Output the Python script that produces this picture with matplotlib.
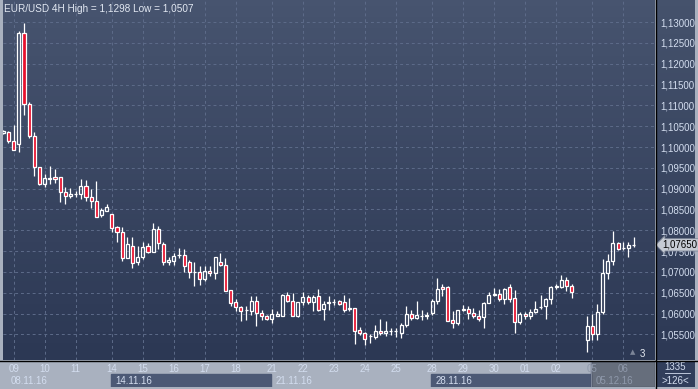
import numpy as np
import matplotlib
matplotlib.use("Agg")
import matplotlib.pyplot as plt
from matplotlib.colors import LinearSegmentedColormap
from matplotlib.lines import Line2D
from matplotlib.ticker import FuncFormatter

plt.rcParams['font.family'] = ['Liberation Sans', 'DejaVu Sans']

nan = np.nan

# EUR/USD 4H candles (slots 111, 112 have no bar)
opens = [1.1034, 1.1036, 1.1015, 1.1007, 1.1274, 1.1104, 1.1027, 1.0952, 1.0910, 1.0924,
         1.0927, 1.0927, 1.0891, 1.0882, 1.0887, 1.0887, 1.0906, 1.0879, 1.0871, 1.0837,
         1.0847, 1.0839, 1.0809, 1.0797, 1.0734, 1.0763, 1.0724, 1.0737, 1.0763, 1.0749,
         1.0804, 1.0768, 1.0723, 1.0727, 1.0740, 1.0740, 1.0723, 1.0699, 1.0699, 1.0682,
         1.0703, 1.0697, 1.0724, 1.0716, 1.0657, 1.0627, 1.0615, 1.0608, 1.0607, 1.0630,
         1.0601, 1.0594, 1.0587, 1.0594, 1.0594, 1.0644, 1.0631, 1.0593, 1.0627, 1.0640,
         1.0627, 1.0642, 1.0611, 1.0626, 1.0627, 1.0629, 1.0628, 1.0612, 1.0613, 1.0561,
         1.0554, 1.0545, 1.0543, 1.0559, 1.0554, 1.0558, 1.0559, 1.0554, 1.0573, 1.0599,
         1.0589, 1.0593, 1.0594, 1.0601, 1.0629, 1.0664, 1.0664, 1.0585, 1.0577, 1.0609,
         1.0611, 1.0601, 1.0594, 1.0591, 1.0625, 1.0644, 1.0648, 1.0636, 1.0664, 1.0638,
         1.0580, 1.0600, 1.0594, 1.0604, 1.0615, 1.0618, 1.0636, 1.0664, 1.0664, 1.0680,
         1.0665, nan, nan, 1.0536, 1.0571, 1.0551, 1.0604, 1.0698, 1.0725, 1.0769,
         1.0757, 1.0757, 1.0765]
highs = [1.1040, 1.1038, 1.1052, 1.1279, 1.1298, 1.1107, 1.1036, 1.0952, 1.0934, 1.0954,
         1.0948, 1.0928, 1.0903, 1.0901, 1.0895, 1.0924, 1.0920, 1.0898, 1.0918, 1.0854,
         1.0863, 1.0840, 1.0811, 1.0807, 1.0785, 1.0785, 1.0763, 1.0771, 1.0769, 1.0817,
         1.0811, 1.0771, 1.0736, 1.0745, 1.0757, 1.0755, 1.0729, 1.0723, 1.0715, 1.0713,
         1.0715, 1.0737, 1.0745, 1.0733, 1.0657, 1.0635, 1.0617, 1.0617, 1.0643, 1.0641,
         1.0609, 1.0597, 1.0611, 1.0605, 1.0646, 1.0651, 1.0649, 1.0628, 1.0651, 1.0645,
         1.0645, 1.0660, 1.0629, 1.0641, 1.0635, 1.0633, 1.0645, 1.0637, 1.0614, 1.0567,
         1.0556, 1.0550, 1.0573, 1.0586, 1.0582, 1.0565, 1.0565, 1.0578, 1.0617, 1.0609,
         1.0631, 1.0609, 1.0603, 1.0635, 1.0685, 1.0671, 1.0667, 1.0607, 1.0609, 1.0621,
         1.0617, 1.0613, 1.0609, 1.0627, 1.0651, 1.0661, 1.0658, 1.0662, 1.0670, 1.0656,
         1.0604, 1.0603, 1.0610, 1.0631, 1.0644, 1.0637, 1.0666, 1.0672, 1.0692, 1.0688,
         1.0670, nan, nan, 1.0595, 1.0598, 1.0622, 1.0730, 1.0743, 1.0799, 1.0771,
         1.0771, 1.0771, 1.0785]
lows = [1.1032, 1.1010, 1.0992, 1.0988, 1.1078, 1.1022, 1.0930, 1.0908, 1.0903, 1.0912,
        1.0914, 1.0869, 1.0863, 1.0877, 1.0879, 1.0875, 1.0871, 1.0854, 1.0831, 1.0831,
        1.0847, 1.0795, 1.0772, 1.0726, 1.0733, 1.0710, 1.0716, 1.0732, 1.0746, 1.0749,
        1.0756, 1.0716, 1.0717, 1.0717, 1.0733, 1.0699, 1.0686, 1.0665, 1.0669, 1.0677,
        1.0690, 1.0682, 1.0715, 1.0653, 1.0618, 1.0607, 1.0581, 1.0585, 1.0597, 1.0569,
        1.0585, 1.0585, 1.0578, 1.0593, 1.0593, 1.0627, 1.0593, 1.0592, 1.0621, 1.0623,
        1.0605, 1.0605, 1.0585, 1.0609, 1.0621, 1.0621, 1.0603, 1.0605, 1.0528, 1.0549,
        1.0524, 1.0529, 1.0540, 1.0549, 1.0545, 1.0549, 1.0543, 1.0541, 1.0567, 1.0585,
        1.0586, 1.0585, 1.0586, 1.0596, 1.0623, 1.0641, 1.0581, 1.0565, 1.0573, 1.0605,
        1.0588, 1.0589, 1.0581, 1.0565, 1.0625, 1.0643, 1.0630, 1.0622, 1.0628, 1.0553,
        1.0576, 1.0586, 1.0588, 1.0602, 1.0610, 1.0587, 1.0622, 1.0660, 1.0662, 1.0654,
        1.0638, nan, nan, 1.0507, 1.0537, 1.0537, 1.0598, 1.0684, 1.0717, 1.0752,
        1.0752, 1.0737, 1.0760]
closes = [1.1038, 1.1015, 1.0993, 1.1274, 1.1104, 1.1027, 1.0952, 1.0910, 1.0925, 1.0926,
          1.0924, 1.0891, 1.0882, 1.0887, 1.0888, 1.0906, 1.0879, 1.0871, 1.0833, 1.0848,
          1.0855, 1.0805, 1.0797, 1.0734, 1.0766, 1.0722, 1.0737, 1.0760, 1.0749, 1.0804,
          1.0769, 1.0724, 1.0729, 1.0739, 1.0741, 1.0715, 1.0699, 1.0700, 1.0682, 1.0703,
          1.0697, 1.0736, 1.0716, 1.0655, 1.0625, 1.0615, 1.0607, 1.0609, 1.0630, 1.0601,
          1.0593, 1.0588, 1.0599, 1.0599, 1.0645, 1.0631, 1.0594, 1.0627, 1.0640, 1.0627,
          1.0640, 1.0609, 1.0622, 1.0627, 1.0628, 1.0623, 1.0609, 1.0613, 1.0557, 1.0553,
          1.0538, 1.0547, 1.0559, 1.0553, 1.0559, 1.0559, 1.0558, 1.0573, 1.0599, 1.0589,
          1.0596, 1.0594, 1.0596, 1.0631, 1.0659, 1.0659, 1.0582, 1.0577, 1.0609, 1.0611,
          1.0601, 1.0594, 1.0588, 1.0625, 1.0645, 1.0646, 1.0636, 1.0658, 1.0636, 1.0580,
          1.0598, 1.0595, 1.0604, 1.0612, 1.0616, 1.0636, 1.0664, 1.0665, 1.0680, 1.0665,
          1.0652, nan, nan, 1.0571, 1.0551, 1.0604, 1.0698, 1.0725, 1.0769, 1.0756,
          1.0758, 1.0765, 1.0765]

# first candle slot of each trading day
day_start = [2, 8, 14, 21, 27, 33, 39, 45, 52, 58, 64, 70, 76, 83, 89, 95, 101, 107, 114, 120]
day_labels = ['09', '10', '11', '14', '15', '16', '17', '18', '21', '22',
              '23', '24', '25', '28', '29', '30', '01', '02', '05', '06']
week_start = [-8, 21, 52, 83, 114]
week_labels = ['08.11.16', '14.11.16', '21.11.16', '28.11.16', '05.12.16']

title = 'EUR/USD 4H High = 1,1298 Low = 1,0507'
last_price = 1.0765

W, H = 698, 389
fig = plt.figure(figsize=(W / 100, H / 100), dpi=100, facecolor='#a9b1bf')


def px(x0, y0, x1, y1):
    # pixel box (top-left origin) -> figure rect
    return [x0 / W, 1 - y1 / H, (x1 - x0) / W, (y1 - y0) / H]


def gradient(a, top, bottom):
    cm = LinearSegmentedColormap.from_list('g', [top, bottom])
    a.imshow(np.linspace(0, 1, 64).reshape(-1, 1), cmap=cm, extent=(0, 1, 0, 1),
             transform=a.transAxes, aspect='auto', zorder=0)


ax = fig.add_axes(px(3, 0, 655, 360))
axr = fig.add_axes(px(656, 0, 695, 360))
axb = fig.add_axes(px(3, 361, 655, 387), sharex=ax)
axc = fig.add_axes(px(656, 361, 695, 387))
ax.set_zorder(3)
for a in (axr, axb, axc):
    a.set_zorder(1)

gradient(ax, '#47546f', '#2c3854')
gradient(axr, '#45526c', '#2d3955')
for a in (axr, axc):
    a.set_xticks([])
    a.set_yticks([])
    for s in a.spines.values():
        s.set_visible(False)
axb.set_facecolor('#313e5b')
axc.set_facecolor('#313e5b')
axb.axis('off')
axb.patch.set_visible(True)

# candles
o = np.array(opens)
hi = np.array(highs)
lo = np.array(lows)
c = np.array(closes)
idx = np.arange(len(o))
ok = ~np.isnan(o)
idx, o, hi, lo, c = idx[ok], o[ok], hi[ok], lo[ok], c[ok]
top = np.maximum(o, c)
bot = np.minimum(o, c)
up = c >= o

ax.vlines(idx, top, hi, color='white', lw=0.9, zorder=3)
ax.vlines(idx, lo, bot, color='white', lw=0.9, zorder=3)
ax.bar(idx[up], (top - bot)[up], bottom=bot[up], width=0.6, facecolor='none',
       edgecolor='white', lw=0.9, zorder=4)
ax.bar(idx[~up], (top - bot)[~up], bottom=bot[~up], width=0.6, facecolor='#e8112d',
       edgecolor='white', lw=0.9, zorder=4)

ax.set_xlim(-0.06, 126.15)
ax.set_ylim(1.04884, 1.13531)

ax.set_yticks(np.arange(1.055, 1.13001, 0.005))
ax.yaxis.tick_right()
ax.yaxis.set_major_formatter(FuncFormatter(lambda v, p: f"{v:.5f}".replace('.', ',')))
ax.tick_params(axis='y', length=0, pad=3.5, labelsize=7, labelcolor='#d3ddef')
ax.set_xticks(day_start, day_labels)
ax.tick_params(axis='x', length=0, pad=3, labelsize=7, labelcolor='#d3ddef')
for lab in ax.get_xticklabels()[-2:]:
    lab.set_color('#8f99ab')
for s in ax.spines.values():
    s.set_visible(False)
ax.set_axisbelow(True)
ax.grid(True, color='#5d6b89', ls=(0, (3, 3)), lw=0.7)

# week row
axb.set_ylim(0, 1)
for i, (ws, wl) in enumerate(zip(week_start, week_labels)):
    nxt = week_start[i + 1] if i + 1 < len(week_start) else 126.2
    if i in (1, 3):
        axb.axvspan(ws - 0.2, nxt - 0.2, 0.0, 0.5, color='#4c5975', zorder=1)
    col = '#8f99ab' if i == len(week_start) - 1 else '#d3ddef'
    axb.text(max(ws, 0.8) + 0.7, 0.25, wl, transform=axb.get_xaxis_transform(),
             ha='left', va='center', fontsize=7, color=col, zorder=3)
axb.axvspan(week_start[-1] - 0.2, 126.2, 0, 1, color='#252c3b', alpha=0.5, zorder=2)
axb.axvline(week_start[-1] - 0.3, color='#7c8598', lw=0.8, zorder=2)

# last price tag, drawn over the 1,07500 label as in the source chart
ax.text(1.011, last_price, f"{last_price:.5f}".replace('.', ','),
        transform=ax.get_yaxis_transform(), ha='left', va='center', fontsize=7,
        color='black', clip_on=False, zorder=6,
        bbox=dict(boxstyle='larrow,pad=0.12', fc='#c6cbd4', ec='#7e8799', lw=0.6))

ax.text(0.966, 0.022, '\u25b2', transform=ax.transAxes, fontsize=5, color='#7c8598',
        ha='center', va='center', family=['DejaVu Sans'])
ax.text(0.981, 0.016, '3', transform=ax.transAxes, fontsize=7, color='#e6ebf3',
        ha='center', va='center')

# corner panel
axc.text(0.5, 0.76, '1335', transform=axc.transAxes, ha='center', va='center',
         fontsize=7, color='#d3ddef')
axc.plot([0.22, 0.88], [0.52, 0.52], color='#d3ddef', lw=0.6, transform=axc.transAxes)
axc.text(0.5, 0.24, '>126<', transform=axc.transAxes, ha='center', va='center',
         fontsize=7, color='#d3ddef')

fig.text(4 / W, 1 - 8.5 / H, title, ha='left', va='center', fontsize=7.2,
         color='#e2e8f2', zorder=10)

fig.add_artist(Line2D([655.5 / W] * 2, [0, 1], color='black', lw=1, zorder=10))
fig.add_artist(Line2D([0, 1], [1 - 360.5 / H] * 2, color='black', lw=1, zorder=10))

fig.savefig('out.png', dpi=100, facecolor=fig.get_facecolor())
